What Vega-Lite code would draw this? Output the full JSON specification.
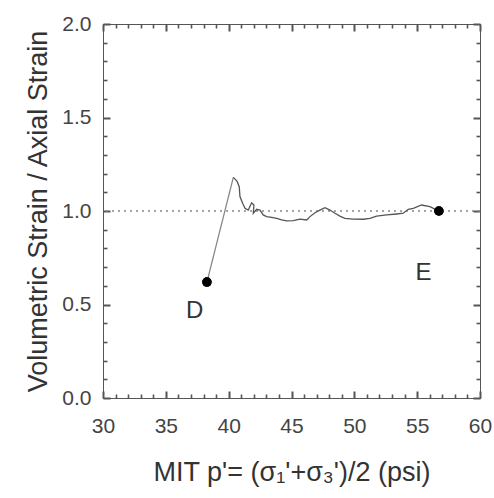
{
  "$schema": "https://vega.github.io/schema/vega-lite/v6.json",
  "autosize": "none",
  "padding": {"left": 103, "top": 24, "right": 14, "bottom": 100},
  "width": 377,
  "height": 374,
  "background": "white",
  "config": {
    "view": {"stroke": "#555", "strokeWidth": 1},
    "font": "Liberation Sans"
  },
  "datasets": {
    "curve": [
      {"i": 0, "seg": "rise", "p": 38.27, "r": 0.62},
      {"i": 1, "seg": "rise", "p": 40.37, "r": 1.18},
      {"i": 1, "seg": "main", "p": 40.37, "r": 1.18},
      {"i": 2, "seg": "main", "p": 40.55, "r": 1.168},
      {"i": 3, "seg": "main", "p": 40.68, "r": 1.157},
      {"i": 4, "seg": "main", "p": 40.84, "r": 1.13},
      {"i": 5, "seg": "main", "p": 40.90, "r": 1.077},
      {"i": 6, "seg": "main", "p": 41.11, "r": 1.041},
      {"i": 7, "seg": "main", "p": 41.30, "r": 1.015},
      {"i": 8, "seg": "main", "p": 41.56, "r": 1.005},
      {"i": 9, "seg": "main", "p": 41.83, "r": 1.044},
      {"i": 10, "seg": "main", "p": 42.01, "r": 1.032},
      {"i": 11, "seg": "main", "p": 41.96, "r": 0.988},
      {"i": 12, "seg": "main", "p": 42.23, "r": 1.009},
      {"i": 13, "seg": "main", "p": 42.49, "r": 1.005},
      {"i": 14, "seg": "main", "p": 42.75, "r": 0.979},
      {"i": 15, "seg": "main", "p": 43.02, "r": 0.970},
      {"i": 16, "seg": "main", "p": 43.42, "r": 0.966},
      {"i": 17, "seg": "main", "p": 43.82, "r": 0.961},
      {"i": 18, "seg": "main", "p": 44.22, "r": 0.952},
      {"i": 19, "seg": "main", "p": 44.61, "r": 0.947},
      {"i": 20, "seg": "main", "p": 45.14, "r": 0.948},
      {"i": 21, "seg": "main", "p": 45.67, "r": 0.956},
      {"i": 22, "seg": "main", "p": 46.21, "r": 0.952},
      {"i": 23, "seg": "main", "p": 46.47, "r": 0.970},
      {"i": 24, "seg": "main", "p": 46.87, "r": 0.991},
      {"i": 25, "seg": "main", "p": 47.26, "r": 1.005},
      {"i": 26, "seg": "main", "p": 47.66, "r": 1.018},
      {"i": 27, "seg": "main", "p": 48.06, "r": 1.005},
      {"i": 28, "seg": "main", "p": 48.46, "r": 0.988},
      {"i": 29, "seg": "main", "p": 48.85, "r": 0.973},
      {"i": 30, "seg": "main", "p": 49.25, "r": 0.961},
      {"i": 31, "seg": "main", "p": 49.91, "r": 0.957},
      {"i": 32, "seg": "main", "p": 50.71, "r": 0.956},
      {"i": 33, "seg": "main", "p": 51.24, "r": 0.961},
      {"i": 34, "seg": "main", "p": 51.77, "r": 0.973},
      {"i": 35, "seg": "main", "p": 52.57, "r": 0.979},
      {"i": 36, "seg": "main", "p": 53.36, "r": 0.984},
      {"i": 37, "seg": "main", "p": 53.89, "r": 0.988},
      {"i": 38, "seg": "main", "p": 54.29, "r": 1.009},
      {"i": 39, "seg": "main", "p": 54.69, "r": 1.014},
      {"i": 40, "seg": "main", "p": 55.35, "r": 1.032},
      {"i": 41, "seg": "main", "p": 56.01, "r": 1.023},
      {"i": 42, "seg": "main", "p": 56.67, "r": 1.002}
    ],
    "pts": [
      {"name": "D", "p": 38.27, "r": 0.62, "lp": 37.3, "lr": 0.465},
      {"name": "E", "p": 56.73, "r": 1.0, "lp": 55.5, "lr": 0.67}
    ],
    "ref": [{"r": 1.0}]
  },
  "resolve": {"axis": {"x": "independent", "y": "independent"}},
  "layer": [
    {
      "data": {"name": "ref"},
      "mark": {"type": "rule", "color": "#888", "strokeDash": [2, 4], "strokeWidth": 1.5},
      "encoding": {
        "y": {
          "field": "r", "type": "quantitative",
          "scale": {"domain": [0, 2], "nice": false},
          "axis": {
            "orient": "left", "offset": -7, "ticks": true, "domain": false, "grid": false,
            "labelOverlap": false, "labelFlush": false,
            "values": [0, 0.5, 1.0, 1.5, 2.0],
            "format": ".1f",
            "tickSize": 7, "tickColor": "#555", "tickWidth": 2,
            "labelPadding": 12,
            "labelFontSize": 21,
            "labelColor": "#444",
            "title": "Volumetric Strain / Axial Strain",
            "titleFontSize": 27,
            "titleFontWeight": "normal",
            "titleColor": "#333",
            "titlePadding": 9
          }
        }
      }
    },
    {
      "data": {"name": "curve"},
      "mark": {"type": "line", "strokeWidth": 1.3},
      "encoding": {
        "x": {
          "field": "p", "type": "quantitative",
          "scale": {"domain": [30, 60], "nice": false},
          "axis": {
            "orient": "bottom", "offset": -7, "ticks": true, "domain": false, "grid": false,
            "labelOverlap": false, "labelFlush": false,
            "values": [30, 35, 40, 45, 50, 55, 60],
            "tickSize": 7, "tickColor": "#555", "tickWidth": 2,
            "labelPadding": 17,
            "labelFontSize": 21,
            "labelColor": "#444",
            "title": "MIT p'= (σ₁'+σ₃')/2 (psi)",
            "titleFontSize": 27,
            "titleFontWeight": "normal",
            "titleColor": "#333",
            "titlePadding": 23
          }
        },
        "y": {
          "field": "r", "type": "quantitative",
          "axis": {"orient": "right", "offset": -7, "ticks": true, "domain": false, "grid": false, "labelOverlap": false, "values": [0, 0.5, 1.0, 1.5, 2.0], "tickSize": 7, "tickColor": "#555", "tickWidth": 2, "labels": false, "title": null}
        },
        "order": {"field": "i", "type": "quantitative"},
        "color": {
          "field": "seg", "type": "nominal",
          "scale": {"domain": ["rise", "main"], "range": ["#888", "#555"]},
          "legend": null
        }
      }
    },
    {
      "data": {"name": "pts"},
      "mark": {"type": "circle", "size": 90, "color": "black", "opacity": 1},
      "encoding": {
        "x": {
          "field": "p", "type": "quantitative",
          "axis": {"orient": "top", "offset": -7, "ticks": true, "domain": false, "grid": false, "labelOverlap": false, "values": [30, 35, 40, 45, 50, 55, 60], "tickSize": 7, "tickColor": "#555", "tickWidth": 2, "labels": false, "title": null}
        },
        "y": {
          "field": "r", "type": "quantitative",
          "axis": {"orient": "left", "offset": -4, "ticks": true, "domain": false, "grid": false, "labelOverlap": false, "values": [0.1,0.2,0.3,0.4,0.6,0.7,0.8,0.9,1.1,1.2,1.3,1.4,1.6,1.7,1.8,1.9], "tickSize": 4, "tickColor": "#555", "tickWidth": 1.6, "labels": false, "title": null}
        }
      }
    },
    {
      "data": {"name": "pts"},
      "mark": {"type": "circle", "size": 90, "color": "black", "opacity": 1},
      "encoding": {
        "x": {
          "field": "p", "type": "quantitative",
          "axis": {"orient": "bottom", "offset": -4, "ticks": true, "domain": false, "grid": false, "labelOverlap": false, "values": [31,32,33,34,36,37,38,39,41,42,43,44,46,47,48,49,51,52,53,54,56,57,58,59], "tickSize": 4, "tickColor": "#555", "tickWidth": 1.6, "labels": false, "title": null}
        },
        "y": {
          "field": "r", "type": "quantitative",
          "axis": {"orient": "right", "offset": -4, "ticks": true, "domain": false, "grid": false, "labelOverlap": false, "values": [0.1,0.2,0.3,0.4,0.6,0.7,0.8,0.9,1.1,1.2,1.3,1.4,1.6,1.7,1.8,1.9], "tickSize": 4, "tickColor": "#555", "tickWidth": 1.6, "labels": false, "title": null}
        }
      }
    },
    {
      "data": {"name": "pts"},
      "mark": {"type": "text", "fontSize": 24, "color": "#333", "font": "Liberation Sans"},
      "encoding": {
        "x": {
          "field": "lp", "type": "quantitative",
          "axis": {"orient": "top", "offset": -4, "ticks": true, "domain": false, "grid": false, "labelOverlap": false, "values": [31,32,33,34,36,37,38,39,41,42,43,44,46,47,48,49,51,52,53,54,56,57,58,59], "tickSize": 4, "tickColor": "#555", "tickWidth": 1.6, "labels": false, "title": null}
        },
        "y": {"field": "lr", "type": "quantitative", "axis": null},
        "text": {"field": "name"}
      }
    }
  ]
}
